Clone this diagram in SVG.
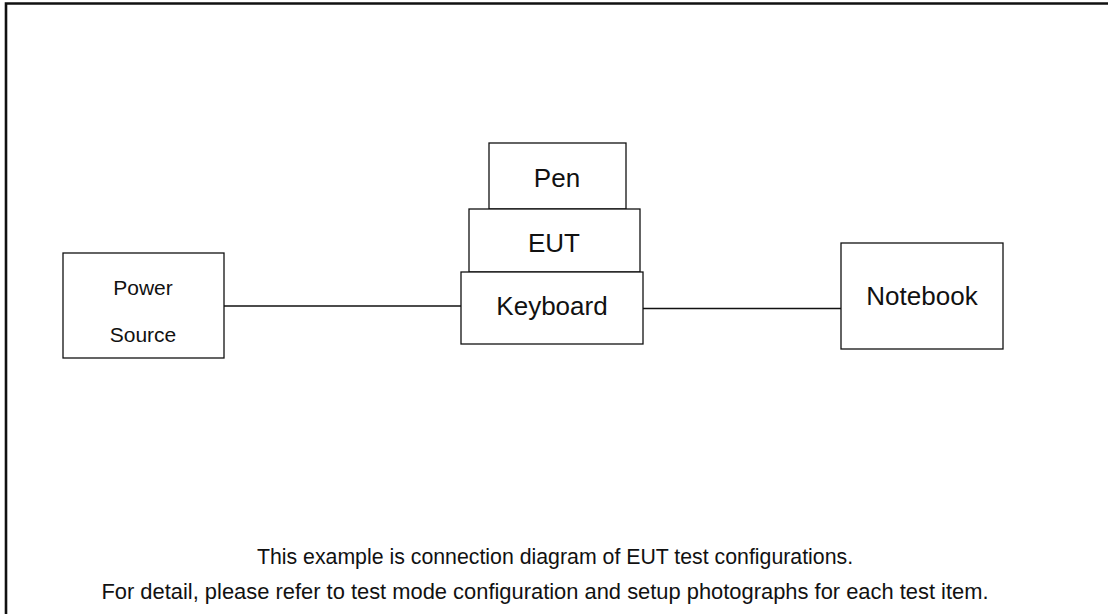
<svg xmlns="http://www.w3.org/2000/svg" width="1108" height="614" viewBox="0 0 1108 614">
  <style>
    .box { fill: #fff; stroke: #111; stroke-width: 1.3; }
    .wire { stroke: #111; stroke-width: 1.6; fill: none; }
    .frame { stroke: #111; stroke-width: 2.6; fill: none; }
    text { font-family: "Liberation Sans", Arial, sans-serif; fill: #111; text-anchor: middle; }
    .big { font-size: 26px; }
    .small { font-size: 21px; }
  </style>
  <rect width="1108" height="614" fill="#fff"/>
  <!-- page frame: top and left edges -->
  <path class="frame" d="M6,620 V3.5 H1110"/>

  <g id="connectors">
    <line class="wire" x1="224" y1="306" x2="461" y2="306"/>
    <line class="wire" x1="643" y1="308.5" x2="841" y2="308.5"/>
  </g>

  <g id="power-source">
    <rect class="box" x="63" y="253" width="161" height="105"/>
    <text class="small" x="143" y="295">Power</text>
    <text class="small" x="143" y="342">Source</text>
  </g>

  <g id="pen">
    <rect class="box" x="489" y="143" width="137" height="66"/>
    <text class="big" x="557" y="187">Pen</text>
  </g>

  <g id="eut">
    <rect class="box" x="469" y="209" width="171" height="63"/>
    <text class="big" x="554" y="252">EUT</text>
  </g>

  <g id="keyboard">
    <rect class="box" x="461" y="272" width="182" height="72"/>
    <text class="big" x="552" y="315">Keyboard</text>
  </g>

  <g id="notebook">
    <rect class="box" x="841" y="243" width="162" height="106"/>
    <text class="big" x="922" y="305">Notebook</text>
  </g>

  <g id="notes">
    <text x="555" y="564" font-size="21.3">This example is connection diagram of EUT test configurations.</text>
    <text x="545" y="599" font-size="21.9">For detail, please refer to test mode configuration and setup photographs for each test item.</text>
  </g>
</svg>
